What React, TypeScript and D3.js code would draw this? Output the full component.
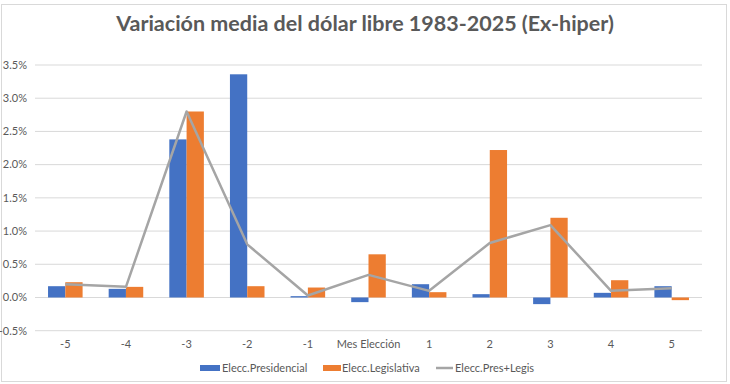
import React from 'react';
import * as d3 from 'd3';

// categories (months relative to election)
const categories = ['-5', '-4', '-3', '-2', '-1', 'Mes Elección', '1', '2', '3', '4', '5'];
// average monthly variation, in %
const presidencial = [0.17, 0.13, 2.38, 3.36, 0.02, -0.07, 0.2, 0.05, -0.1, 0.07, 0.17];
const legislativa = [0.23, 0.16, 2.8, 0.17, 0.15, 0.65, 0.08, 2.22, 1.2, 0.26, -0.04];
const presLegis = [0.2, 0.16, 2.8, 0.8, 0.03, 0.34, 0.1, 0.82, 1.09, 0.1, 0.14];
const yTicks = [-0.5, 0, 0.5, 1, 1.5, 2, 2.5, 3, 3.5];

const W = 730;
const H = 384;
const font = 'Lato, "Open Sans", sans-serif';
const gray = '#595959';
const blue = '#4472C4';
const orange = '#ED7D31';
const lineGray = '#A5A5A5';

const App = () => {
  const x = d3.scaleBand().domain(categories).range([35, 702]).paddingInner(0.43).paddingOuter(0.215);
  const y = d3.scaleLinear().domain([-0.5, 3.5]).range([330.7, 65]);
  const sub = d3.scaleBand().domain(['p', 'l']).range([0, x.bandwidth()]);

  const line = d3.line<number>()
    .x((d, i) => x(categories[i])! + x.bandwidth() / 2)
    .y((d) => y(d));

  const bar = (v: number) => ({ y: Math.min(y(v), y(0)), h: Math.abs(y(v) - y(0)) });

  return (
    <svg width={W} height={H} style={{ position: 'absolute', left: 0, top: 0, background: '#fff' }}>
      <rect x={1.5} y={4.5} width={725} height={377} fill="#fff" stroke="#d9d9d9" />
      <text x={365} y={31} textAnchor="middle" fontFamily={font} fontWeight="bold" fontSize={21.5} fill={gray}>
        Variación media del dólar libre 1983-2025 (Ex-hiper)
      </text>

      {yTicks.map((t) => (
        <g key={t}>
          <line x1={35} x2={702} y1={y(t)} y2={y(t)} stroke="#d9d9d9" strokeWidth={1} />
          <text x={27} y={y(t)} dy="0.35em" textAnchor="end" fontFamily={font} fontSize={11} fill={gray}>
            {t.toFixed(1) + '%'}
          </text>
        </g>
      ))}

      {categories.map((c, i) => (
        <g key={c}>
          <rect x={x(c)! + sub('p')!} y={bar(presidencial[i]).y} width={sub.bandwidth()} height={bar(presidencial[i]).h} fill={blue} />
          <rect x={x(c)! + sub('l')!} y={bar(legislativa[i]).y} width={sub.bandwidth()} height={bar(legislativa[i]).h} fill={orange} />
          <text x={x(c)! + x.bandwidth() / 2} y={344} dy="0.35em" textAnchor="middle" fontFamily={font} fontSize={11} fill={gray}>
            {c}
          </text>
        </g>
      ))}

      <path d={line(presLegis)!} fill="none" stroke={lineGray} strokeWidth={2.5} strokeLinejoin="round" />

      <g fontFamily={font} fontSize={11} fill={gray}>
        <rect x={200} y={365} width={20} height={6} fill={blue} />
        <text x={222} y={368} dy="0.35em">Elecc.Presidencial</text>
        <rect x={323} y={365} width={18} height={6} fill={orange} />
        <text x={342} y={368} dy="0.35em">Elecc.Legislativa</text>
        <line x1={436} x2={453} y1={368} y2={368} stroke={lineGray} strokeWidth={2.5} />
        <text x={455} y={368} dy="0.35em">Elecc.Pres+Legis</text>
      </g>
    </svg>
  );
};

export default App;
